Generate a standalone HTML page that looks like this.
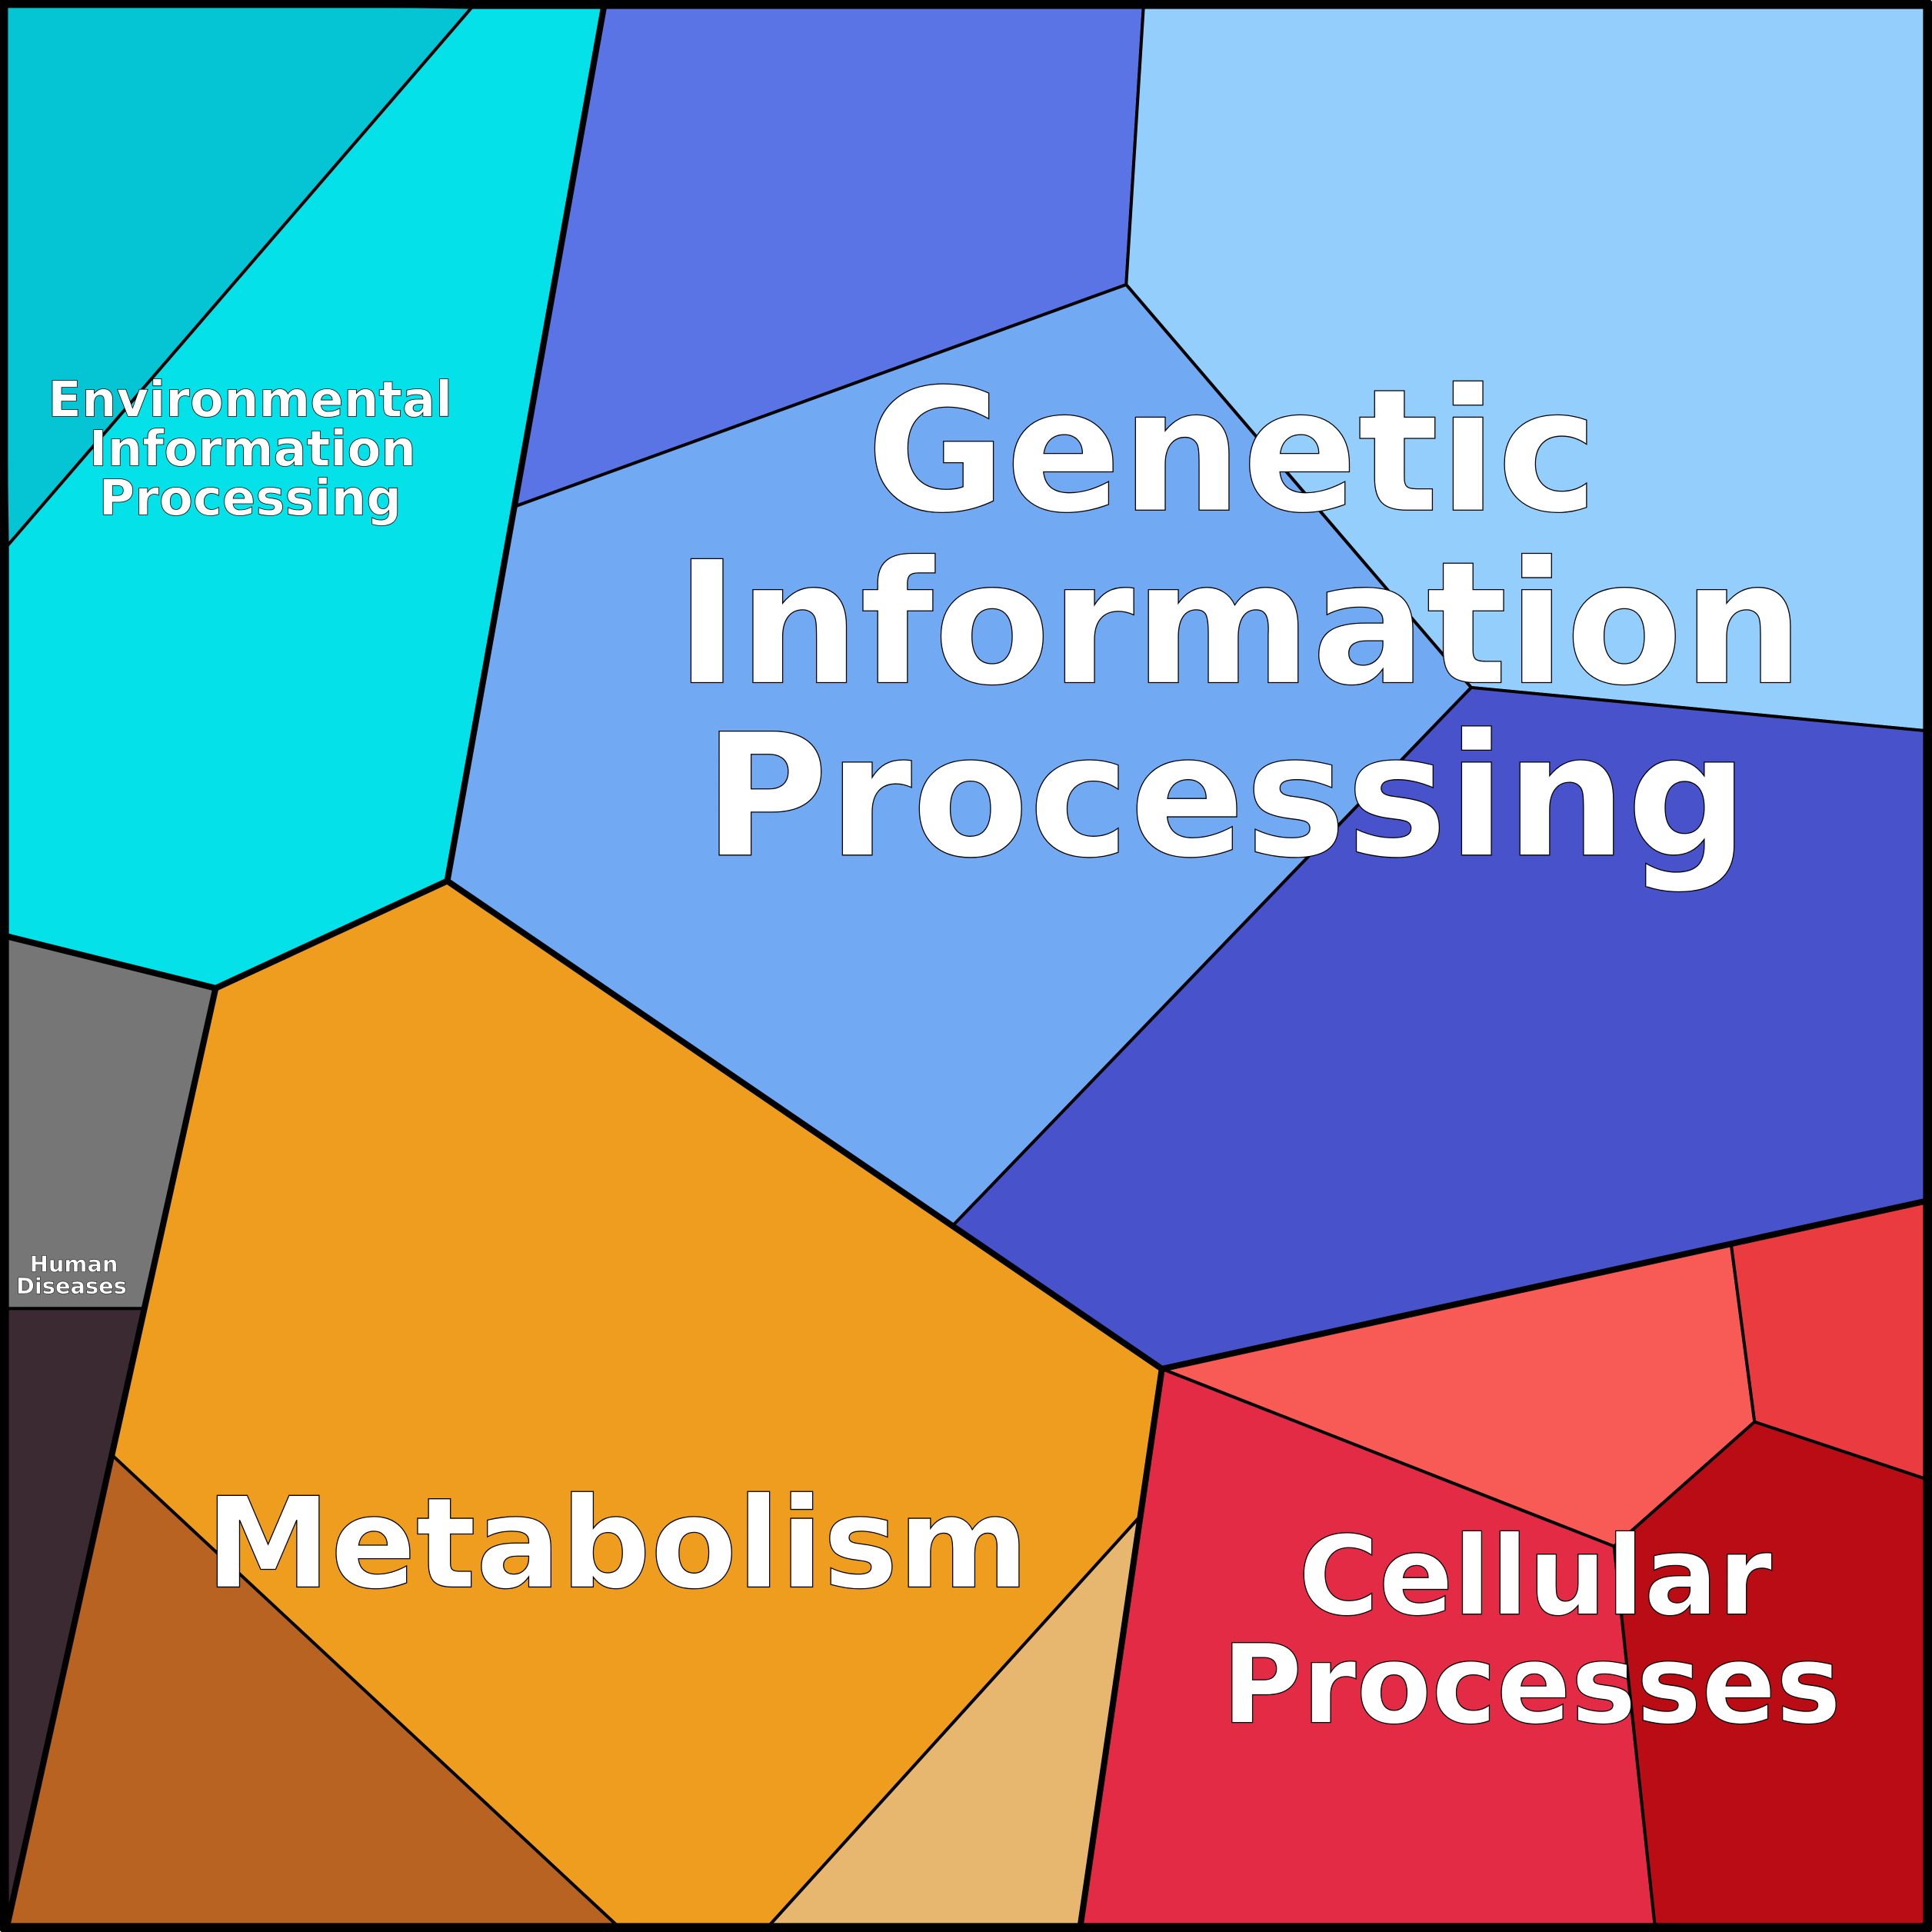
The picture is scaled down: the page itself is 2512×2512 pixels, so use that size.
<!DOCTYPE html>
<html><head><style>html,body{margin:0;padding:0;background:#fff}svg{display:block}</style></head>
<body>
<svg width="2512" height="2512" viewBox="0 0 1568 1568" xmlns="http://www.w3.org/2000/svg">
<g stroke="#000" stroke-width="2.5" stroke-linejoin="round">
<polygon fill="#05c4d4" points="0,0 383,6 6,443"/>
<polygon fill="#04e1e8" points="383,6 490,6 418,411 363,715 175,802 6,760 6,443"/>
<polygon fill="#5a74e6" points="490,6 928,6 914,231 418,411"/>
<polygon fill="#94cefd" points="928,6 1562,6 1562,593 1194,558 914,231"/>
<polygon fill="#72a9f3" points="418,411 914,231 1194,558 773,995 363,715"/>
<polygon fill="#4852cb" points="1194,558 1562,593 1562,975 1405,1010 943,1111 773,995"/>
<polygon fill="#767676" points="6,760 175,802 116,1062 6,1062"/>
<polygon fill="#3c2a33" points="6,1062 116,1062 91,1181 6,1562"/>
<polygon fill="#ee9d1e" points="175,802 363,715 773,995 943,1111 925,1231 625,1562 500,1562 91,1181"/>
<polygon fill="#b96322" points="91,1181 500,1562 6,1562"/>
<polygon fill="#e7b770" points="925,1231 877,1562 625,1562"/>
<polygon fill="#f85a56" points="943,1111 1405,1010 1424,1154 1310,1255"/>
<polygon fill="#ea3b40" points="1405,1010 1562,975 1562,1200 1424,1154"/>
<polygon fill="#e32b45" points="943,1111 1310,1255 1343,1562 877,1562"/>
<polygon fill="#b90c15" points="1310,1255 1424,1154 1562,1200 1562,1562 1343,1562"/>
</g>
<g stroke="#000" stroke-width="5" fill="none" stroke-linejoin="round">
<polyline points="490,6 363,715 175,802 6,760"/>
<polyline points="363,715 943,1111 1562,975"/>
<polyline points="943,1111 877,1562"/>
<polyline points="175,802 6,1562"/>
<rect x="3" y="3" width="1562" height="1562" stroke-width="7"/>
</g>
<g font-family="DejaVu Sans, Liberation Sans, sans-serif" font-weight="bold" fill="#fff" stroke="#000" stroke-width="0.8" text-anchor="middle">
<text x="1000" y="414" font-size="138">Genetic</text>
<text x="1006" y="554" font-size="138">Information</text>
<text x="995" y="694" font-size="138">Processing</text>
<text x="501" y="1288" font-size="102">Metabolism</text>
<text x="1246" y="1310" font-size="89">Cellular</text>
<text x="1243" y="1398" font-size="89">Processes</text>
<text x="203" y="338" font-size="40" stroke-width="0.5">Environmental</text>
<text x="205" y="378" font-size="40" stroke-width="0.5">Information</text>
<text x="203" y="418" font-size="40" stroke-width="0.5">Processing</text>
<text x="60" y="1032" font-size="18" stroke-width="0.3">Human</text>
<text x="58" y="1050" font-size="18" stroke-width="0.3">Diseases</text>
</g>
</svg>
</body></html>
